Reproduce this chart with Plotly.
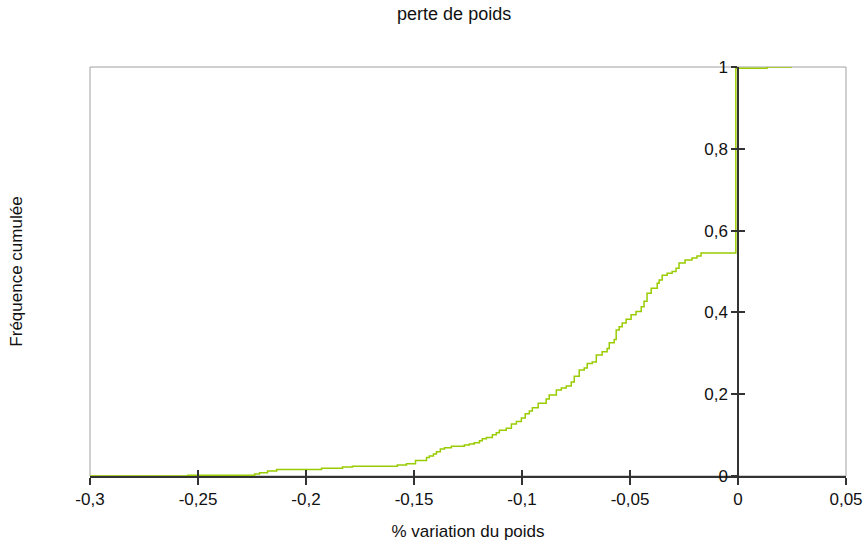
import plotly.graph_objects as go

# Empirical cumulative frequency (step curve): x = % weight variation, y = cumulative frequency
variation = [-0.3, -0.2547, -0.2238, -0.2215, -0.2178, -0.2136, -0.1928, -0.1831, -0.1785,
             -0.1577, -0.1535, -0.1493, -0.1442, -0.1429, -0.1410, -0.1396, -0.1378, -0.1359,
             -0.1327, -0.1267, -0.1244, -0.1221, -0.1197, -0.1184, -0.1165, -0.1137, -0.1119,
             -0.1105, -0.1073, -0.1049, -0.1026, -0.1003, -0.0985, -0.0966, -0.0952, -0.0925,
             -0.0888, -0.0874, -0.0841, -0.0818, -0.0795, -0.0772, -0.0758, -0.0735, -0.0712,
             -0.0698, -0.0675, -0.0656, -0.0629, -0.0606, -0.0596, -0.0573, -0.0564, -0.0550,
             -0.0536, -0.0518, -0.0495, -0.0472, -0.0448, -0.0435, -0.0421, -0.0402, -0.0374,
             -0.0365, -0.0351, -0.0328, -0.0305, -0.0287, -0.0273, -0.0245, -0.0213, -0.0190,
             -0.0171, -0.0010, 0.0134, 0.025]
cum_freq = [0.0, 0.002, 0.005, 0.008, 0.012, 0.016, 0.019, 0.022, 0.024,
            0.027, 0.030, 0.038, 0.045, 0.049, 0.054, 0.059, 0.066, 0.069,
            0.073, 0.076, 0.078, 0.081, 0.086, 0.091, 0.094, 0.101, 0.106,
            0.112, 0.117, 0.127, 0.133, 0.142, 0.152, 0.159, 0.167, 0.178,
            0.188, 0.198, 0.210, 0.215, 0.220, 0.230, 0.244, 0.259, 0.264,
            0.275, 0.279, 0.296, 0.304, 0.312, 0.326, 0.334, 0.357, 0.365,
            0.374, 0.383, 0.394, 0.402, 0.414, 0.427, 0.447, 0.459, 0.471,
            0.479, 0.491, 0.496, 0.500, 0.508, 0.521, 0.528, 0.533, 0.538,
            0.545, 0.997, 1.0, 1.0]

x_ticks = [-0.3, -0.25, -0.2, -0.15, -0.1, -0.05, 0, 0.05]
x_labels = ["-0,3", "-0,25", "-0,2", "-0,15", "-0,1", "-0,05", "0", "0,05"]
y_ticks = [0, 0.2, 0.4, 0.6, 0.8, 1]
y_labels = ["0", "0,2", "0,4", "0,6", "0,8", "1"]

X_RANGE = [-0.3, 0.05]
Y_RANGE = [0, 1]
FONT = "Liberation Sans, Arial, sans-serif"
AXIS_COLOR = "#333333"
FS = 17
zero_pos = (0 - X_RANGE[0]) / (X_RANGE[1] - X_RANGE[0])

fig = go.Figure()
fig.add_trace(go.Scatter(x=variation, y=cum_freq, mode="lines", line_shape="hv",
                         line=dict(color="#99cc00", width=1.5), showlegend=False,
                         cliponaxis=False, hoverinfo="skip"))
# invisible helper traces so that overlay axes (crossing ticks) get drawn
fig.add_trace(go.Scatter(x=[X_RANGE[0]], y=[0], xaxis="x2", yaxis="y", mode="markers",
                         marker=dict(opacity=0), showlegend=False, hoverinfo="skip"))
fig.add_trace(go.Scatter(x=[X_RANGE[0]], y=[0], xaxis="x", yaxis="y2", mode="markers",
                         marker=dict(opacity=0), showlegend=False, hoverinfo="skip"))
fig.add_trace(go.Scatter(x=[X_RANGE[0]], y=[0], xaxis="x", yaxis="y3", mode="markers",
                         marker=dict(opacity=0), showlegend=False, hoverinfo="skip"))

# light-gray plot frame
fig.add_shape(type="rect", xref="x domain", yref="y domain", x0=0, x1=1, y0=0, y1=1,
              line=dict(color="#a0a0a0", width=1), layer="below")

fig.update_layout(
    width=865, height=541,
    margin=dict(l=90, r=19, t=67, b=65, autoexpand=False),
    paper_bgcolor="white", plot_bgcolor="white",
    font=dict(family=FONT, size=FS, color="#111111"),
    title=dict(text="perte de poids", x=0.525, xanchor="center", y=0.975, yanchor="middle",
               font=dict(size=18)),
    xaxis=dict(range=X_RANGE, tickvals=x_ticks, ticktext=x_labels, showgrid=False,
               zeroline=False, showline=True, linecolor=AXIS_COLOR, linewidth=1.5,
               ticks="outside", ticklen=7, tickcolor=AXIS_COLOR, tickwidth=1.5,
               automargin=False,
               title=dict(text="% variation du poids", standoff=19, font=dict(size=FS)),
               tickfont=dict(size=FS)),
    xaxis2=dict(range=X_RANGE, overlaying="x", anchor="y", side="bottom",
                tickvals=x_ticks, showticklabels=False, showgrid=False, zeroline=False,
                showline=False, ticks="inside", ticklen=6, tickcolor=AXIS_COLOR, tickwidth=1.5),
    yaxis=dict(range=Y_RANGE, showticklabels=False, showgrid=False, zeroline=False,
               showline=False, ticks="", automargin=False,
               title=dict(text="Fréquence cumulée", standoff=62, font=dict(size=FS))),
    yaxis2=dict(range=Y_RANGE, overlaying="y", anchor="free", position=zero_pos, side="left",
                tickvals=y_ticks, ticktext=y_labels, showgrid=False, zeroline=False,
                showline=True, linecolor=AXIS_COLOR, linewidth=1.5, automargin=False,
                ticks="outside", ticklen=6, tickcolor=AXIS_COLOR, tickwidth=1.5,
                tickfont=dict(size=FS)),
    yaxis3=dict(range=Y_RANGE, overlaying="y", anchor="free", position=zero_pos, side="left",
                tickvals=y_ticks, showticklabels=False, showgrid=False, zeroline=False,
                showline=False, ticks="inside", ticklen=6, tickcolor=AXIS_COLOR, tickwidth=1.5),
)

fig.write_html("out.html")
